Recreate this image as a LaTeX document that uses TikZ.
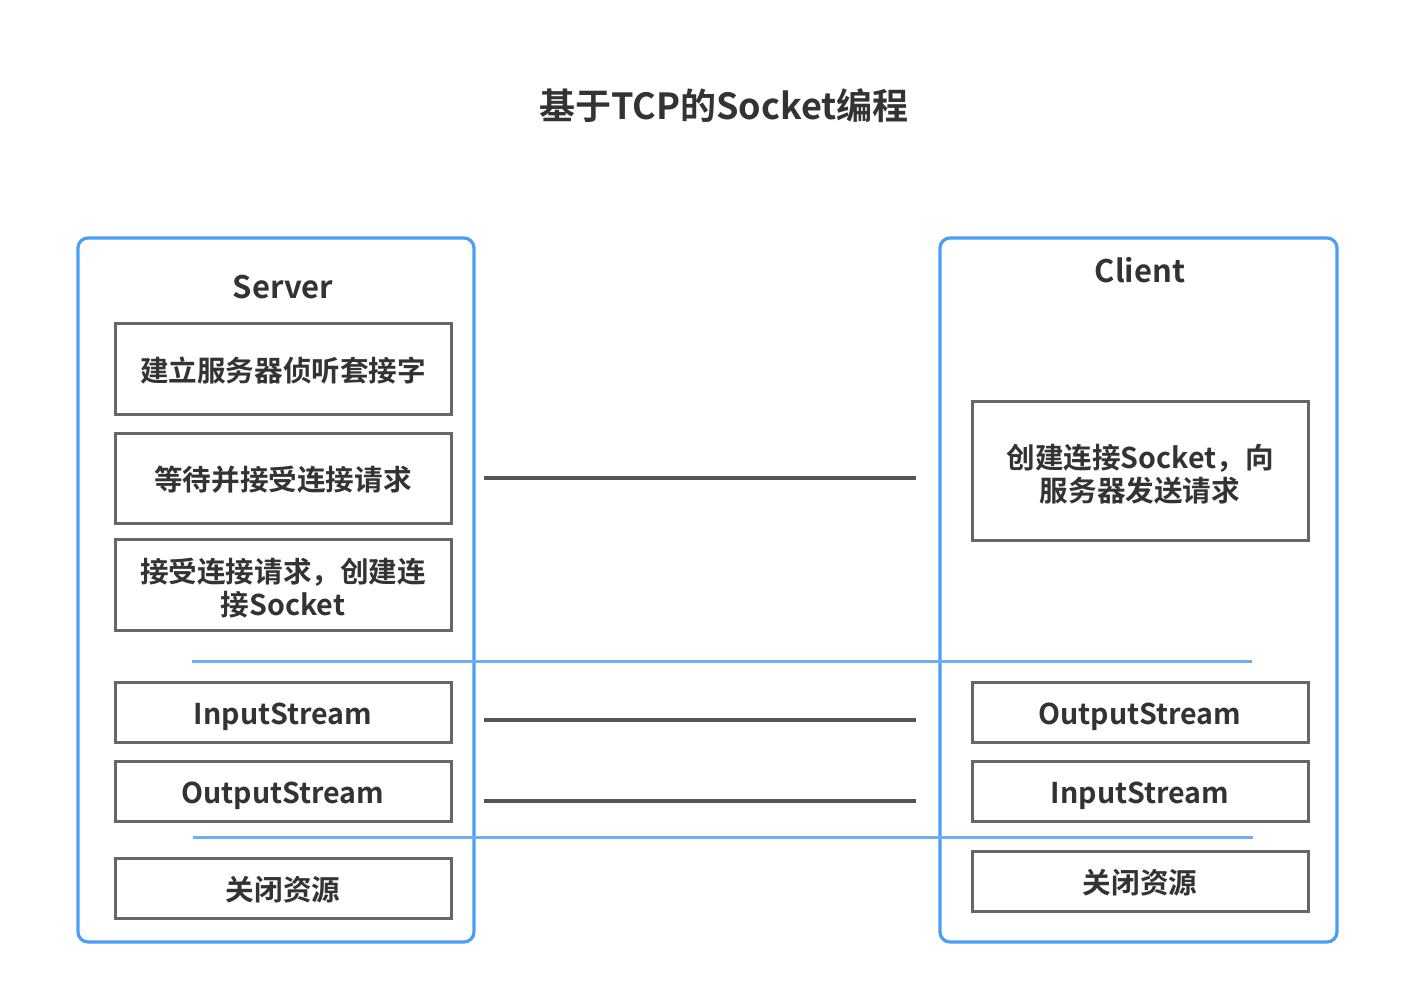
\documentclass[tikz,border=0pt]{standalone}
\usepackage{fontspec}
\setmainfont{Noto Sans CJK SC}[BoldFont={Noto Sans CJK SC Bold}]
\definecolor{txt}{HTML}{333333}
\definecolor{frame}{HTML}{4A9EF5}
\definecolor{sep}{HTML}{6BB0F5}
\definecolor{boxline}{HTML}{666666}
\definecolor{link}{HTML}{555555}
\newcommand{\topstrut}{\rule{0pt}{15.5pt}}
\begin{document}
\begin{tikzpicture}[x=0.5pt,y=-0.5pt,
  container/.style={draw=frame,line width=1.6pt,rounded corners=5pt},
  stepbox/.style={draw=boxline,line width=1.5pt,minimum width=168pt,inner sep=0pt,align=center,text=txt,font=\bfseries\fontsize{14.3pt}{16.5pt}\selectfont},
  oneline/.style={text height=12.6pt,text depth=0pt},
  heading/.style={text=txt,font=\bfseries\fontsize{15.5pt}{18pt}\selectfont},
  linkline/.style={draw=link,line width=2pt},
  sepline/.style={draw=sep,line width=1.5pt}]
\useasboundingbox (0,0) rectangle (1404,992);
\node[text=txt,font=\bfseries\fontsize{18pt}{21pt}\selectfont] (title) at (724,106) {基于TCP的Socket编程};
% containers
\draw[container] (78,238) rectangle (474,942);
\draw[container] (940,238) rectangle (1337,942);
\node[heading] (server) at (283,287) {Server};
\node[heading] (client) at (1140,270) {Client};
% server steps
\node[stepbox,oneline,minimum height=45.5pt] (s1) at (283,368.5) {建立服务器侦听套接字};
\node[stepbox,oneline,minimum height=45pt] (s2) at (283,478) {等待并接受连接请求};
\node[stepbox,minimum height=45.5pt] (s3) at (283,584.5) {\topstrut 接受连接请求，创建连\\接Socket};
\node[stepbox,oneline,minimum height=30pt] (s4) at (283,712) {InputStream};
\node[stepbox,oneline,minimum height=30pt] (s5) at (283,791) {OutputStream};
\node[stepbox,oneline,minimum height=30pt] (s6) at (283,888) {关闭资源};
% client steps
\node[stepbox,minimum height=69.5pt] (c1) at (1140,470.5) {\topstrut 创建连接Socket，向\\服务器发送请求};
\node[stepbox,oneline,minimum height=30pt] (c2) at (1140,712) {OutputStream};
\node[stepbox,oneline,minimum height=30pt] (c3) at (1140,791) {InputStream};
\node[stepbox,oneline,minimum height=30pt] (c4) at (1140,881) {关闭资源};
% connectors
\coordinate (l1a) at (484,478); \coordinate (l1b) at (916,478);
\coordinate (l2a) at (484,720); \coordinate (l2b) at (916,720);
\coordinate (l3a) at (484,801); \coordinate (l3b) at (916,801);
\draw[linkline] (l1a) -- (l1b);
\draw[linkline] (l2a) -- (l2b);
\draw[linkline] (l3a) -- (l3b);
% separators
\coordinate (p1a) at (192,661); \coordinate (p1b) at (1252,661);
\coordinate (p2a) at (193,837); \coordinate (p2b) at (1253,837);
\draw[sepline] (p1a) -- (p1b);
\draw[sepline] (p2a) -- (p2b);
\end{tikzpicture}
\end{document}
